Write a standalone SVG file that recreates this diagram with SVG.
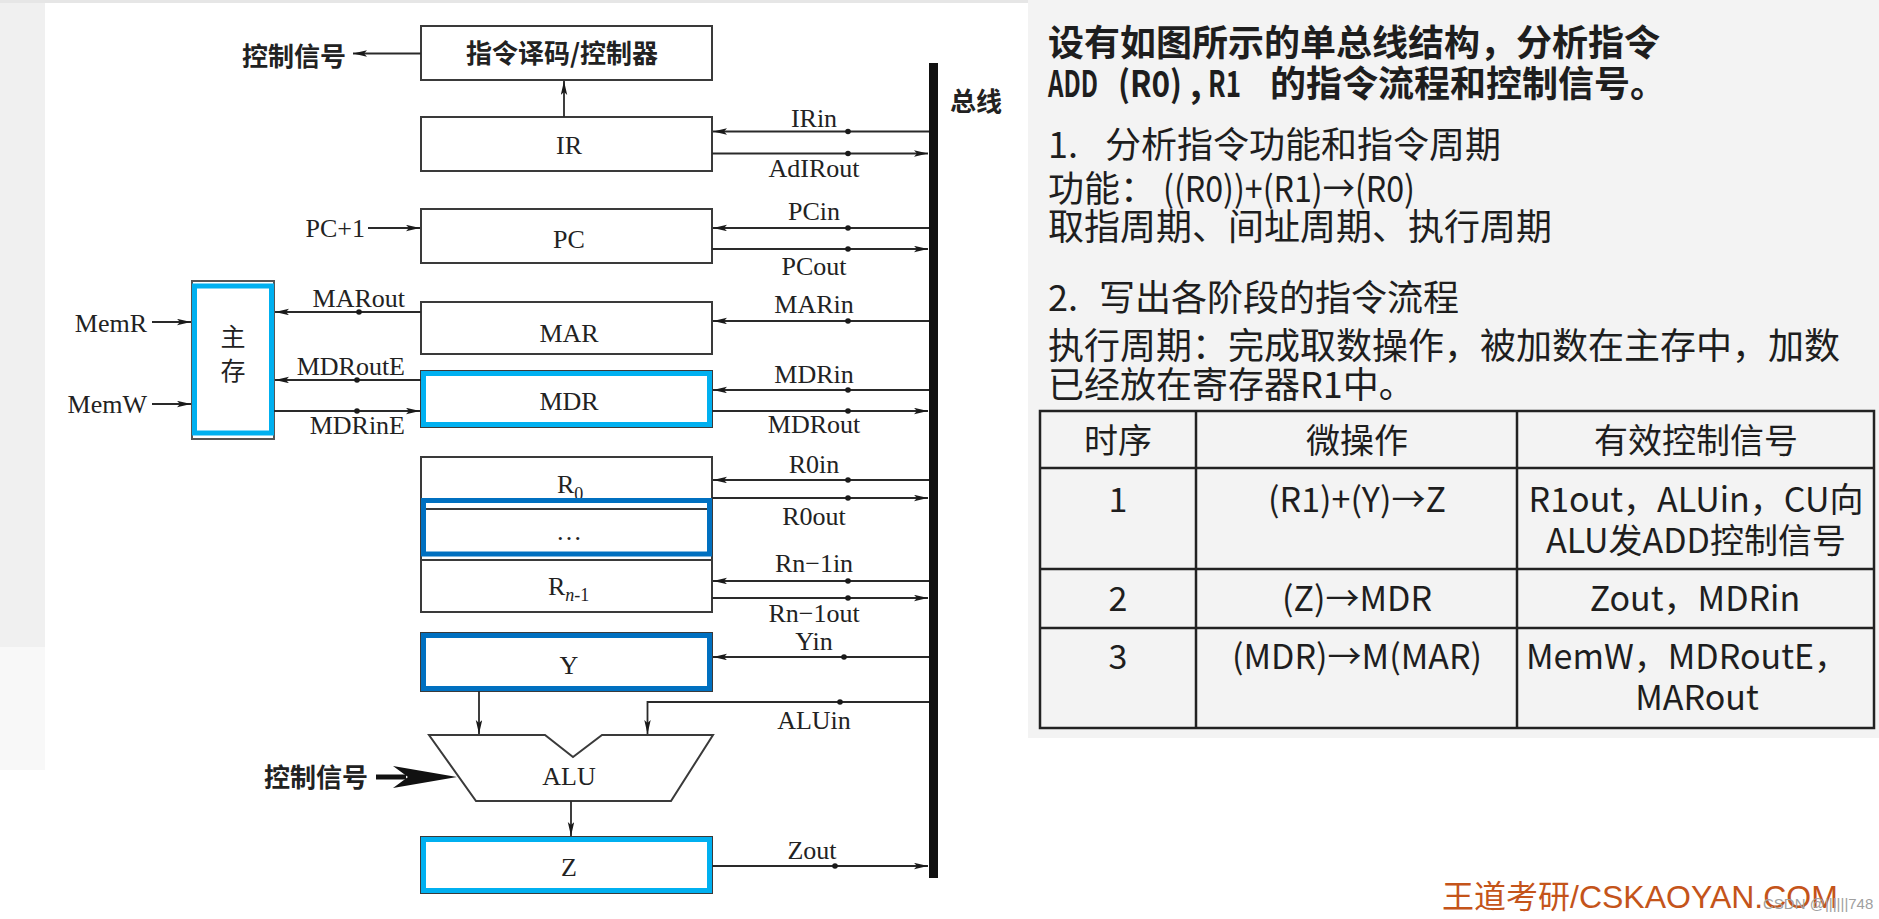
<svg xmlns="http://www.w3.org/2000/svg" width="1879" height="919" viewBox="0 0 1879 919">
<style>
.box{fill:#fff;stroke:#3a3a3a;stroke-width:2}
.hl1{fill:none;stroke:#00B0F0;stroke-width:5}
.hl2{fill:none;stroke:#0070C0;stroke-width:5}
.w{stroke:#2a2a2a;stroke-width:1.8;fill:none}
.dot{fill:#1a1a1a}
.t{font-family:"Liberation Serif","Times New Roman",serif;font-size:26px;fill:#222}
.tc{font-family:"Noto Sans CJK SC",sans-serif;font-size:26px;font-weight:700;fill:#222}
.rt{font-family:"Noto Sans CJK SC",sans-serif;font-size:36px;fill:#1e1e1e}
.tb{font-family:"Noto Sans CJK SC",sans-serif;font-size:34px;fill:#1e1e1e;text-anchor:middle}
.grid{stroke:#222;stroke-width:2.5;fill:none}
</style>
<defs>
<marker id="ah" markerWidth="15" markerHeight="8" refX="14" refY="3.2" orient="auto" markerUnits="userSpaceOnUse">
<path d="M0,0 L14,3.2 L0,6.4 L3,3.2 Z" fill="#1a1a1a"/>
</marker>
</defs>

<g id="background">
<rect x="0" y="0" width="1879" height="919" fill="#ffffff"/>
<rect x="0" y="0" width="45" height="647" fill="#f0f0f0"/>
<rect x="0" y="647" width="45" height="123" fill="#f8f8f8"/>
<rect x="0" y="0" width="1028" height="3" fill="#e6e6e6"/>
<rect x="1028" y="0" width="851" height="738" fill="#f3f3f3"/>
</g>

<g id="bus">
<rect x="929" y="63" width="9" height="815" fill="#111"/>
<text class="tc" x="950" y="111" font-size="25">总线</text>
</g>

<g id="decoder">
<rect class="box" x="421" y="26" width="291" height="54"/>
<text class="tc" x="562" y="63" text-anchor="middle">指令译码/控制器</text>
</g>

<g id="IR">
<rect class="box" x="421" y="117" width="291" height="54"/>
<text class="t" x="569" y="154" text-anchor="middle">IR</text>
</g>

<g id="PC">
<rect class="box" x="421" y="209" width="291" height="54"/>
<text class="t" x="569" y="248" text-anchor="middle">PC</text>
</g>

<g id="MAR">
<rect class="box" x="421" y="302" width="291" height="52"/>
<text class="t" x="569" y="342" text-anchor="middle">MAR</text>
</g>

<g id="MDR">
<rect class="box" x="421" y="371" width="291" height="56"/>
<rect class="hl1" x="423.5" y="373.5" width="286" height="51"/>
<text class="t" x="569" y="410" text-anchor="middle">MDR</text>
</g>

<g id="R0">
<rect class="box" x="421" y="457" width="291" height="52"/>
<text class="t" x="557" y="493">R<tspan font-size="18" dy="7">0</tspan></text>
</g>

<g id="Rdots">
<rect class="box" x="421" y="509" width="291" height="51" fill="none"/>
<rect class="hl2" x="423.5" y="500.5" width="286" height="53.5"/>
<text class="t" x="569" y="540" text-anchor="middle">…</text>
</g>

<g id="Rn1">
<rect class="box" x="421" y="560" width="291" height="52"/>
<text class="t" x="548" y="595">R<tspan font-size="18" dy="6" font-style="italic">n</tspan><tspan font-size="18">-1</tspan></text>
</g>

<g id="Y">
<rect class="box" x="421" y="633" width="291" height="58"/>
<rect class="hl2" x="423.5" y="635.5" width="286" height="53"/>
<text class="t" x="569" y="674" text-anchor="middle">Y</text>
</g>

<g id="ALU">
<polygon points="429,735 545,735 573,757 602,735 713,735 671,801 476,801" fill="#fff" stroke="#3a3a3a" stroke-width="2"/>
<text class="t" x="569" y="785" text-anchor="middle">ALU</text>
</g>

<g id="Z">
<rect class="box" x="421" y="837" width="291" height="56"/>
<rect class="hl1" x="423.5" y="839.5" width="286" height="51"/>
<text class="t" x="569" y="876" text-anchor="middle">Z</text>
</g>

<g id="memory">
<rect x="192" y="281" width="82" height="158" fill="#fff" stroke="#555" stroke-width="2"/>
<rect class="hl1" x="194.5" y="286" width="77" height="147"/>
<text x="233" y="346" font-family="Noto Sans CJK SC,sans-serif" font-size="25" fill="#222" text-anchor="middle">主</text>
<text x="233" y="380" font-family="Noto Sans CJK SC,sans-serif" font-size="25" fill="#222" text-anchor="middle">存</text>
</g>

<g id="connectors">
<line class="w" x1="421" y1="53.5" x2="353" y2="53.5" marker-end="url(#ah)"/>
<line class="w" x1="564" y1="117" x2="564" y2="81" marker-end="url(#ah)"/>
<line class="w" x1="929" y1="131.5" x2="713" y2="131.5" marker-end="url(#ah)"/>
<line class="w" x1="712" y1="153.5" x2="928" y2="153.5" marker-end="url(#ah)"/>
<line class="w" x1="368" y1="228" x2="420" y2="228" marker-end="url(#ah)"/>
<line class="w" x1="929" y1="228" x2="713" y2="228" marker-end="url(#ah)"/>
<line class="w" x1="712" y1="249" x2="928" y2="249" marker-end="url(#ah)"/>
<line class="w" x1="929" y1="321" x2="713" y2="321" marker-end="url(#ah)"/>
<line class="w" x1="929" y1="390" x2="713" y2="390" marker-end="url(#ah)"/>
<line class="w" x1="712" y1="411" x2="928" y2="411" marker-end="url(#ah)"/>
<line class="w" x1="929" y1="480" x2="713" y2="480" marker-end="url(#ah)"/>
<line class="w" x1="712" y1="498" x2="928" y2="498" marker-end="url(#ah)"/>
<line class="w" x1="929" y1="581" x2="713" y2="581" marker-end="url(#ah)"/>
<line class="w" x1="712" y1="598" x2="928" y2="598" marker-end="url(#ah)"/>
<line class="w" x1="929" y1="657" x2="713" y2="657" marker-end="url(#ah)"/>
<path class="w" d="M929,702 H647.5 V734" marker-end="url(#ah)"/>
<line class="w" x1="479" y1="691" x2="479" y2="734" marker-end="url(#ah)"/>
<line class="w" x1="571" y1="801" x2="571" y2="836" marker-end="url(#ah)"/>
<line class="w" x1="712" y1="866" x2="928" y2="866" marker-end="url(#ah)"/>
<line class="w" x1="421" y1="312" x2="275" y2="312" marker-end="url(#ah)"/>
<line class="w" x1="421" y1="380" x2="275" y2="380" marker-end="url(#ah)"/>
<line class="w" x1="274" y1="411" x2="420" y2="411" marker-end="url(#ah)"/>
<line class="w" x1="152" y1="322" x2="191" y2="322" marker-end="url(#ah)"/>
<line class="w" x1="152" y1="404" x2="191" y2="404" marker-end="url(#ah)"/>
<line x1="376" y1="777" x2="406" y2="777" stroke="#111" stroke-width="5"/>
<polygon points="457,777 393,766 408,777 393,788" fill="#111"/>
<g class="dot">
<circle cx="848" cy="131.5" r="2.8"/><circle cx="848" cy="153.5" r="2.8"/>
<circle cx="848" cy="228" r="2.8"/><circle cx="848" cy="249" r="2.8"/>
<circle cx="848" cy="321" r="2.8"/><circle cx="848" cy="390" r="2.8"/>
<circle cx="848" cy="411" r="2.8"/><circle cx="848" cy="480" r="2.8"/>
<circle cx="848" cy="498" r="2.8"/><circle cx="848" cy="581" r="2.8"/>
<circle cx="848" cy="598" r="2.8"/><circle cx="844" cy="657" r="2.8"/>
<circle cx="840" cy="702" r="2.8"/><circle cx="835" cy="866" r="2.8"/>
<circle cx="359" cy="312" r="2.8"/><circle cx="357" cy="380" r="2.8"/>
<circle cx="357" cy="411" r="2.8"/>
</g>
</g>

<g id="labels">
<text class="tc" x="346" y="66" text-anchor="end">控制信号</text>
<text class="tc" x="368" y="787" text-anchor="end">控制信号</text>
<text class="t" x="365" y="237" text-anchor="end">PC+1</text>
<text class="t" x="147" y="332" text-anchor="end">MemR</text>
<text class="t" x="147" y="413" text-anchor="end">MemW</text>
<text class="t" x="405" y="307" text-anchor="end">MARout</text>
<text class="t" x="405" y="375" text-anchor="end">MDRoutE</text>
<text class="t" x="405" y="434" text-anchor="end">MDRinE</text>
<g text-anchor="middle">
<text class="t" x="814" y="127">IRin</text>
<text class="t" x="814" y="177">AdIRout</text>
<text class="t" x="814" y="220">PCin</text>
<text class="t" x="814" y="275">PCout</text>
<text class="t" x="814" y="313">MARin</text>
<text class="t" x="814" y="383">MDRin</text>
<text class="t" x="814" y="433">MDRout</text>
<text class="t" x="814" y="473">R0in</text>
<text class="t" x="814" y="525">R0out</text>
<text class="t" x="814" y="572">Rn−1in</text>
<text class="t" x="814" y="622">Rn−1out</text>
<text class="t" x="814" y="650">Yin</text>
<text class="t" x="814" y="729">ALUin</text>
<text class="t" x="812" y="859">Zout</text>
</g>
</g>

<g id="description">
<text class="rt" x="1048" y="56" font-weight="700">设有如图所示的单总线结构，分析指令</text>
<text class="rt" y="97" font-weight="700"><tspan x="1048" textLength="50" lengthAdjust="spacingAndGlyphs">ADD</tspan><tspan x="1118" textLength="64" lengthAdjust="spacingAndGlyphs">(R0)</tspan><tspan x="1190">,</tspan><tspan x="1208" textLength="33" lengthAdjust="spacingAndGlyphs">R1</tspan><tspan x="1270">的指令流程和控制信号。</tspan></text>
<text class="rt" y="158"><tspan x="1048">1.</tspan><tspan x="1105">分析指令功能和指令周期</tspan></text>
<text class="rt" y="202"><tspan x="1048">功能：</tspan><tspan x="1163" textLength="252" lengthAdjust="spacingAndGlyphs">((R0))+(R1)→(R0)</tspan></text>
<text class="rt" x="1048" y="240">取指周期、间址周期、执行周期</text>
<text class="rt" y="311"><tspan x="1048">2.</tspan><tspan x="1099">写出各阶段的指令流程</tspan></text>
<text class="rt" x="1048" y="359">执行周期：完成取数操作，被加数在主存中，加数</text>
<text class="rt" x="1048" y="398">已经放在寄存器R1中。</text>
</g>

<g id="table">
<rect class="grid" x="1040" y="411" width="834" height="317"/>
<line class="grid" x1="1196" y1="411" x2="1196" y2="728"/>
<line class="grid" x1="1517" y1="411" x2="1517" y2="728"/>
<line class="grid" x1="1040" y1="468" x2="1874" y2="468"/>
<line class="grid" x1="1040" y1="569" x2="1874" y2="569"/>
<line class="grid" x1="1040" y1="628" x2="1874" y2="628"/>
<text class="tb" x="1118" y="453">时序</text>
<text class="tb" x="1357" y="453">微操作</text>
<text class="tb" x="1696" y="453">有效控制信号</text>
<text class="tb" x="1118" y="512">1</text>
<text class="tb" x="1357" y="512">(R1)+(Y)→Z</text>
<text class="tb" x="1696" y="512">R1out，ALUin，CU向</text>
<text class="tb" x="1696" y="553">ALU发ADD控制信号</text>
<text class="tb" x="1118" y="611">2</text>
<text class="tb" x="1357" y="611">(Z)→MDR</text>
<text class="tb" x="1695" y="611">Zout，MDRin</text>
<text class="tb" x="1118" y="669">3</text>
<text class="tb" x="1357" y="669">(MDR)→M(MAR)</text>
<text class="tb" x="1687" y="669">MemW，MDRoutE，</text>
<text class="tb" x="1697" y="710">MARout</text>
</g>

<g id="watermark">
<text x="1442" y="908" font-family="Liberation Sans,Noto Sans CJK SC,sans-serif" font-size="32" fill="#C4541A">王道考研/CSKAOYAN.COM</text>
<text x="1763" y="909" font-family="Liberation Sans,Noto Sans CJK SC,sans-serif" font-size="15" fill="#a0a0a0">CSDN @||||||748</text>
</g>
</svg>
